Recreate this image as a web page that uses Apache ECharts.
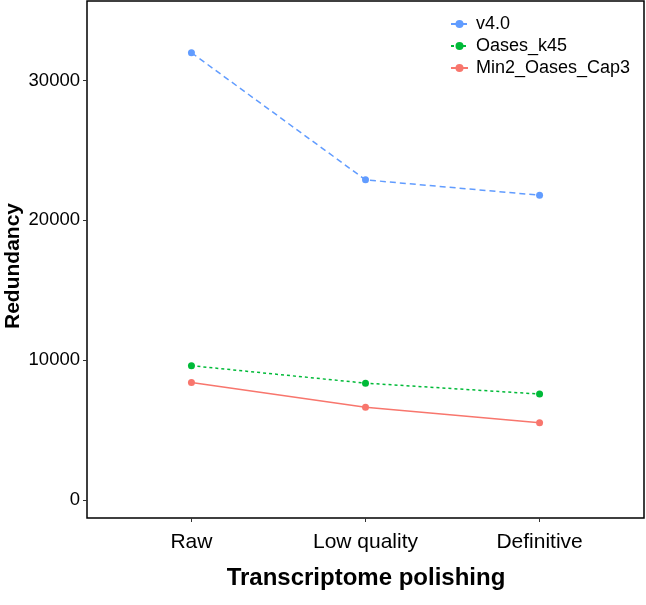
<!DOCTYPE html>
<html>
<head>
<meta charset="utf-8">
<script src="https://cdn.jsdelivr.net/npm/echarts@6/dist/echarts.min.js"></script>
<style>
html,body{margin:0;padding:0;background:#fff;}
#chart{width:646px;height:605px;}
</style>
</head>
<body>
<div id="chart"></div>
<script>
var categories = ['Raw', 'Low quality', 'Definitive'];
var seriesNames = ['v4.0', 'Oases_k45', 'Min2_Oases_Cap3'];
var v40 = [32000, 22900, 21800];
var oasesK45 = [9600, 8350, 7570];
var min2OasesCap3 = [8400, 6620, 5520];
var yTicks = [0, 10000, 20000, 30000];
var xTitle = 'Transcriptome polishing';
var yTitle = 'Redundancy';

var FONT = '"Liberation Sans", Arial, Helvetica, sans-serif';
function pts(arr) { return arr.map(function (v, i) { return [i, v]; }); }

var chart = echarts.init(document.getElementById('chart'), null, {renderer: 'canvas'});
chart.setOption({
  animation: false,
  backgroundColor: '#fff',
  textStyle: {fontFamily: FONT},
  grid: {left: 87, right: 2, top: 1, bottom: 87, containLabel: false, outerBoundsMode: 'none',
    show: true, borderColor: '#000', borderWidth: 1.5, backgroundColor: '#fff'},
  legend: {
    orient: 'vertical', left: 445, top: 10,
    itemWidth: 17, itemHeight: 10, itemGap: 4,
    textStyle: {fontFamily: FONT, fontSize: 18, color: '#000', lineHeight: 18, padding: [0, 0, 0, 3]},
    data: seriesNames
  },
  xAxis: {
    type: 'value', min: -0.6, max: 2.6,
    axisLine: {show: false, onZero: false},
    splitLine: {show: false},
    axisTick: {show: true, customValues: [0, 1, 2], length: 4, lineStyle: {color: '#333', width: 1}},
    axisLabel: {customValues: [0, 1, 2], margin: 14, fontSize: 21, color: '#000', fontFamily: FONT,
      formatter: function (v) { return categories[Math.round(v)]; }}
  },
  yAxis: {
    type: 'value', min: -1300, max: 35700,
    axisLine: {show: false, onZero: false},
    splitLine: {show: false},
    axisTick: {show: true, customValues: yTicks, length: 4, lineStyle: {color: '#333', width: 1}},
    axisLabel: {customValues: yTicks, margin: 7, fontSize: 18.5, color: '#000', fontFamily: FONT,
      formatter: function (v) { return String(v); }}
  },
  graphic: [
    {type: 'text', x: 366, y: 566,
      style: {text: xTitle, font: 'bold 24px ' + FONT, fill: '#000', align: 'center', verticalAlign: 'top'}},
    {type: 'text', x: 3, y: 266, rotation: Math.PI / 2,
      style: {text: yTitle, font: 'bold 21px ' + FONT, fill: '#000', align: 'center', verticalAlign: 'top'}}
  ],
  series: [
    {name: seriesNames[0], type: 'line', data: pts(v40), symbol: 'circle', symbolSize: 7,
      itemStyle: {color: '#619CFF'}, lineStyle: {color: '#619CFF', width: 1.5, type: [6, 4]}},
    {name: seriesNames[1], type: 'line', data: pts(oasesK45), symbol: 'circle', symbolSize: 7,
      itemStyle: {color: '#00BA38'}, lineStyle: {color: '#00BA38', width: 1.5, type: [3, 3]}},
    {name: seriesNames[2], type: 'line', data: pts(min2OasesCap3), symbol: 'circle', symbolSize: 7,
      itemStyle: {color: '#F8766D'}, lineStyle: {color: '#F8766D', width: 1.5, type: 'solid'}}
  ]
});
</script>
</body>
</html>
